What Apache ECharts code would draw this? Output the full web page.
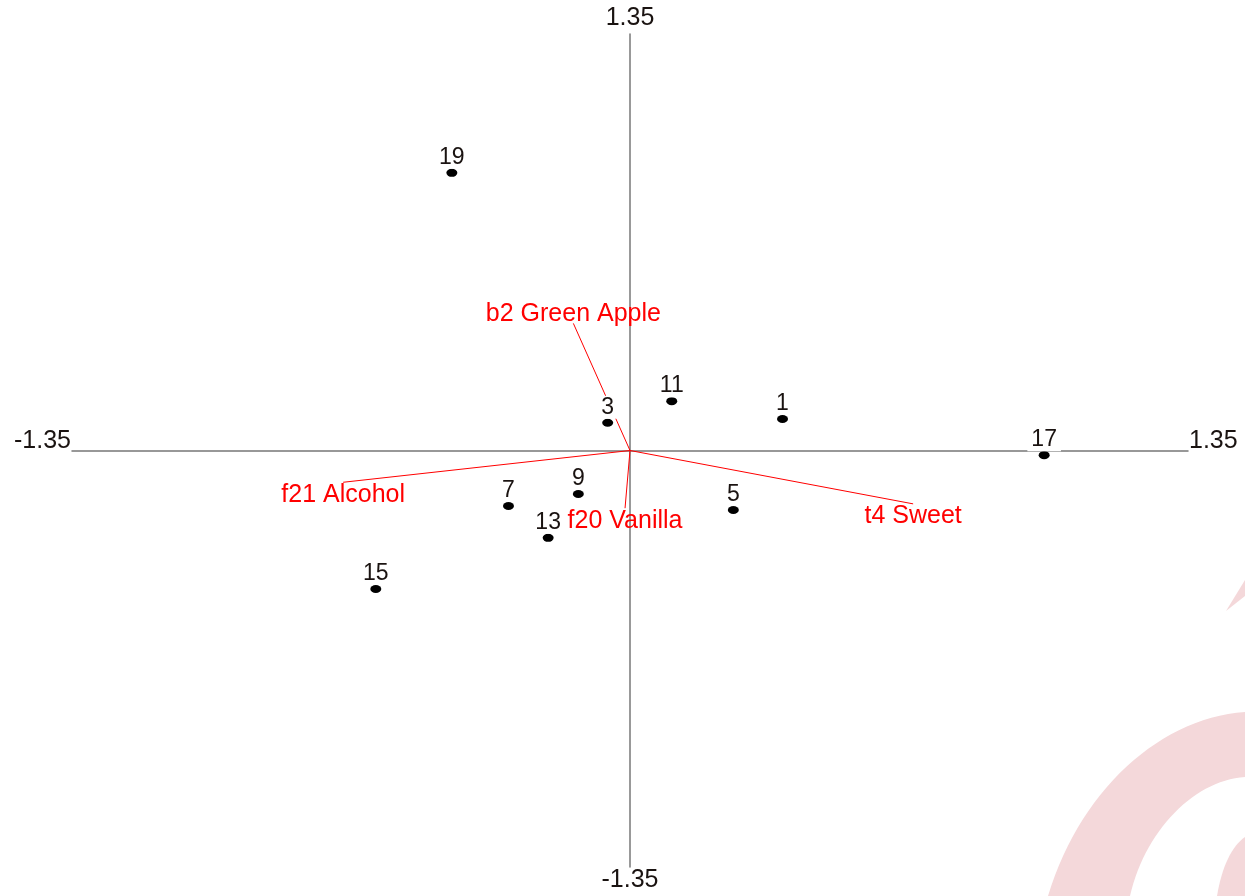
<!DOCTYPE html>
<html>
<head>
<meta charset="utf-8">
<style>
  html, body { margin: 0; padding: 0; background: #ffffff; }
  #chart { width: 1245px; height: 896px; }
</style>
<script src="https://cdn.jsdelivr.net/npm/echarts@6/dist/echarts.min.js"></script>
</head>
<body>
<div id="chart"></div>
<script>
// Sample scores (dimension 1, dimension 2)
const sampleNames = ['1', '3', '5', '7', '9', '11', '13', '15', '17', '19'];
const sampleX = [0.369, -0.054, 0.250, -0.294, -0.125, 0.101, -0.198, -0.615, 1.002, -0.431];
const sampleY = [0.102, 0.090, -0.193, -0.180, -0.141, 0.160, -0.283, -0.449, -0.015, 0.900];

// Attribute loadings drawn as vectors from the origin
const attrNames = ['b2 Green Apple', 'f21 Alcohol', 'f20 Vanilla', 't4 Sweet'];
const attrX = [-0.137, -0.694, -0.012, 0.685];
const attrY = [0.412, -0.103, -0.187, -0.173];
const attrLabelSide = ['top', 'bottom', 'bottom', 'bottom'];

// Axis extent and the labels at both ends of each axis
const axisLimit = 1.35;
const axisEndLabels = ['-1.35', '1.35', '1.35', '-1.35'];

const FONT = '"Liberation Sans", Arial, sans-serif';
const RED = '#ff0000';
const INK = '#1a1311';
const LOGO = '#f4d8da';

const chart = echarts.init(document.getElementById('chart'), null, { renderer: 'canvas' });

// Sample a cubic Bezier into polygon points (used for the corner logo outline)
function bezierPts(p0, p1, p2, p3, steps) {
  const out = [];
  for (let k = 0; k <= steps; k++) {
    const t = k / steps, u = 1 - t;
    out.push([
      u * u * u * p0[0] + 3 * u * u * t * p1[0] + 3 * u * t * t * p2[0] + t * t * t * p3[0],
      u * u * u * p0[1] + 3 * u * u * t * p1[1] + 3 * u * t * t * p2[1] + t * t * t * p3[1]
    ]);
  }
  return out;
}

const logoArc = [
  ...bezierPts([1048, 896], [1080, 790], [1160, 718], [1245, 712], 30),
  ...bezierPts([1245, 777], [1195, 780], [1145, 830], [1130, 896], 30)
];
const logoInner = [
  ...bezierPts([1217, 896], [1222, 866], [1232, 846], [1245, 837], 16),
  [1245, 896]
];

const sampleData = sampleNames.map((n, i) => ({ name: n, value: [sampleX[i], sampleY[i]] }));

const vectorSeries = attrNames.map((n, i) => ({
  type: 'line',
  name: n,
  data: [[0, 0], [attrX[i], attrY[i]]],
  symbol: 'none',
  silent: true,
  z: 2,
  lineStyle: { color: RED, width: 1, opacity: 1 },
  animation: false
}));

const attrLabelData = attrNames.map((n, i) => ({
  name: n,
  value: [attrX[i], attrY[i]],
  label: { position: attrLabelSide[i], distance: attrLabelSide[i] === 'top' ? -3 : 0 }
}));

const endData = [
  { value: [-axisLimit, 0], label: { formatter: axisEndLabels[0], position: 'left', distance: 1, offset: [0, -9] } },
  { value: [axisLimit, 0], label: { formatter: axisEndLabels[1], position: 'right', distance: 1, offset: [0, -9] } },
  { value: [0, axisLimit], label: { formatter: axisEndLabels[2], position: 'top', distance: 3 } },
  { value: [0, -axisLimit], label: { formatter: axisEndLabels[3], position: 'bottom', distance: 1 } }
];

const axisCommon = {
  type: 'value',
  min: -axisLimit,
  max: axisLimit,
  axisLine: { show: true, onZero: true, lineStyle: { color: '#777777', width: 1.5 } },
  axisTick: { show: false },
  axisLabel: { show: false },
  splitLine: { show: false }
};

chart.setOption({
  animation: false,
  backgroundColor: '#ffffff',
  grid: { left: 72, right: 57, top: 34, bottom: 29 },
  xAxis: axisCommon,
  yAxis: axisCommon,
  graphic: [
    // faint logo mark in the lower right corner
    { type: 'polygon', z: -10, silent: true, shape: { points: logoArc }, style: { fill: LOGO } },
    { type: 'polygon', z: -10, silent: true, shape: { points: logoInner }, style: { fill: LOGO } },
    { type: 'polygon', z: -10, silent: true, shape: { points: [[1226, 611], [1245, 580], [1245, 596]] }, style: { fill: LOGO } }
  ],
  series: [
    ...vectorSeries,
    {
      type: 'scatter',
      name: 'attributes',
      data: attrLabelData,
      symbolSize: 0,
      silent: true,
      z: 3,
      itemStyle: { opacity: 1, color: RED },
      label: {
        show: true,
        formatter: '{b}',
        color: RED,
        fontFamily: FONT,
        fontSize: 25
      }
    },
    {
      type: 'scatter',
      name: 'samples',
      data: sampleData,
      symbol: 'circle',
      symbolSize: [11, 8],
      silent: true,
      z: 5,
      itemStyle: { color: '#000000', opacity: 1 },
      label: {
        show: true,
        position: 'top',
        distance: 0,
        formatter: '{b}',
        color: INK,
        fontFamily: FONT,
        fontSize: 23,
        backgroundColor: '#ffffff',
        padding: [0, 4, 0, 4]
      }
    },
    {
      type: 'scatter',
      name: 'axisEnds',
      data: endData,
      symbolSize: 0,
      silent: true,
      itemStyle: { opacity: 1 },
      label: {
        show: true,
        color: INK,
        fontFamily: FONT,
        fontSize: 25
      }
    }
  ]
});
</script>
</body>
</html>
